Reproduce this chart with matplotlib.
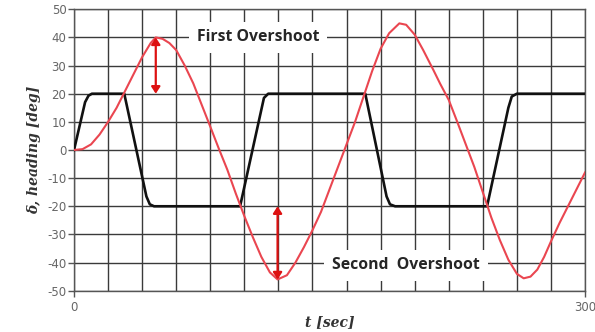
import matplotlib
matplotlib.use("Agg")
import matplotlib.pyplot as plt
from matplotlib.patches import FancyArrowPatch

# Heading (red) time history [sec, deg]
t_head = [0, 5, 10, 15, 20, 25, 30, 35, 40, 45, 48, 52, 56, 60, 65, 70, 75, 80, 85, 90,
          95, 100, 105, 110, 115, 119.5, 125, 130, 135, 140, 145, 150, 155, 160, 165,
          170, 175, 180, 185, 191, 195, 200, 205, 211, 215, 220, 225, 230, 235, 240,
          245, 250, 255, 260, 264, 268, 272, 276, 280, 285, 290, 295, 300]
heading = [0, 0.3, 2, 5.5, 10, 15, 21, 27, 33, 38, 40, 39.5, 38, 35.5, 30, 23.7, 16, 8.3,
           0.5, -7, -15.5, -23.5, -31, -38, -43.5, -46, -44.5, -40, -34.5, -28.5, -22,
           -14, -6, 2, 10, 19, 28, 36, 41.5, 45, 44.5, 41, 35.5, 28.4, 23.5, 17.8, 10,
           2, -6, -15, -24, -32, -39, -44, -45.6, -45, -42.5, -38, -32.5, -26, -20,
           -14, -8]

# Rudder angle (black) [sec, deg]
t_rud = [0, 6.5, 8.5, 10.5, 29.5, 42.5, 44.5, 47, 97.5, 109.5, 111.5, 114, 171,
         183.5, 185.5, 188.5, 242.5, 255, 257, 260, 300]
rudder = [0, 17, 19.3, 20, 20, -16.5, -19.3, -20, -20, 13, 18.5, 20, 20,
          -16.5, -19.3, -20, -20, 15, 19, 20, 20]

# Overshoot arrows: (time, from, to)
first_os = (48, 40, 20)
second_os = (119.5, -20, -46)

# Annotation labels: (text, time, deg)
labels = [('First Overshoot', 108, 40), ('Second  Overshoot', 195, -41)]

yticks = list(range(-50, 51, 10))
xticks = [0, 300]
xgrid = list(range(0, 301, 20))

fig = plt.figure(figsize=(5.95, 3.32), dpi=100)
ax = fig.add_axes([0.1244, 0.1244, 0.8588, 0.8476])

ax.set_xlim(0, 300)
ax.set_ylim(-50, 50)

gridc = '#3a3a3a'
for x in xgrid:
    ax.axvline(x, color=gridc, lw=1.0, zorder=1)
for y in yticks:
    ax.axhline(y, color=gridc, lw=1.0, zorder=1)

ax.plot(t_rud, rudder, color='#111111', lw=1.9, zorder=3, solid_joinstyle='round')
ax.plot(t_head, heading, color='#ea4650', lw=1.5, zorder=4)

for (tx, y0, y1) in (first_os, second_os):
    arr = FancyArrowPatch((tx, y0), (tx, y1), arrowstyle='<|-|>,head_length=4,head_width=2.6',
                          color='#dd1111', lw=1.6, zorder=5, shrinkA=0, shrinkB=0)
    ax.add_patch(arr)

for (txt, tx, ty) in labels:
    ax.text(tx, ty, txt, ha='center', va='center', fontsize=11.3,
            fontweight='bold', family='Open Sans', color='#262626', zorder=6,
            bbox=dict(boxstyle='square,pad=0.5', fc='white', ec='none'))

ax.set_yticks(yticks)
ax.set_yticklabels([str(v) for v in yticks])
ax.set_xticks(xticks)
ax.set_xticklabels([str(v) for v in xticks])
ax.tick_params(axis='both', colors='#555555', labelcolor='#666666', labelsize=8.5,
               length=4.5, width=1.0)
ax.tick_params(axis='y', pad=1)
ax.tick_params(axis='x', pad=3)

for s in ax.spines.values():
    s.set_color('#555555')
    s.set_linewidth(1.0)

ax.set_ylabel('δ, heading [deg]', family='DejaVu Serif', style='italic',
              fontweight='bold', fontsize=10, color='#333333', labelpad=4)
ax.set_xlabel('t [sec]', family='DejaVu Serif', style='italic',
              fontweight='bold', fontsize=10, color='#333333', labelpad=1)

fig.savefig('out.png', dpi=100)
